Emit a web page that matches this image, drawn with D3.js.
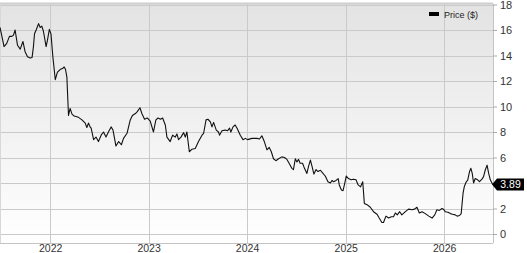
<!DOCTYPE html>
<html><head><meta charset="utf-8">
<script src="https://cdn.jsdelivr.net/npm/d3@7"></script>
<style>html,body{margin:0;padding:0;background:#fff;}svg{display:block;font-family:"Liberation Sans",Arial,sans-serif;}</style>
</head><body><svg id="c" width="527" height="253"></svg>
<script>
const dates = ["2021-06-29","2021-07-14","2021-07-24","2021-08-03","2021-08-12","2021-08-18","2021-08-24","2021-09-02","2021-09-12","2021-09-22","2021-09-30","2021-10-09","2021-10-19","2021-10-26","2021-10-31","2021-11-04","2021-11-10","2021-11-19","2021-11-25","2021-12-01","2021-12-07","2021-12-17","2021-12-22","2021-12-29",
"2022-01-04","2022-01-11","2022-01-20","2022-01-28","2022-02-07","2022-02-17","2022-02-22","2022-02-27","2022-03-04","2022-03-10","2022-03-16","2022-03-23","2022-03-31","2022-04-16","2022-04-29","2022-05-11","2022-05-17","2022-05-23","2022-05-29","2022-06-02","2022-06-11","2022-06-20","2022-06-29","2022-07-09","2022-07-18","2022-07-27","2022-08-05","2022-08-15","2022-08-22","2022-09-02","2022-09-12","2022-09-22","2022-09-30","2022-10-13","2022-10-25","2022-11-02","2022-11-13","2022-11-20","2022-11-30","2022-12-07","2022-12-17","2022-12-27",
"2023-01-07","2023-01-19","2023-01-28","2023-02-05","2023-02-14","2023-02-22","2023-03-04","2023-03-10","2023-03-22","2023-03-31","2023-04-10","2023-04-16","2023-04-22","2023-05-01","2023-05-11","2023-05-17","2023-05-23","2023-06-01","2023-06-11","2023-06-23","2023-07-05","2023-07-18","2023-07-24","2023-08-02","2023-08-09","2023-08-18","2023-08-24","2023-08-30","2023-09-09","2023-09-17","2023-09-21","2023-09-30","2023-10-12","2023-10-21","2023-10-28","2023-11-02","2023-11-10","2023-11-18","2023-11-25","2023-12-07","2023-12-17","2023-12-26",
"2024-01-03","2024-01-19","2024-02-07","2024-02-16","2024-02-25","2024-03-05","2024-03-15","2024-03-23","2024-03-31","2024-04-08","2024-04-17","2024-04-27","2024-05-09","2024-05-19","2024-05-28","2024-06-05","2024-06-15","2024-06-21","2024-06-28","2024-07-04","2024-07-10","2024-07-16","2024-07-25","2024-08-01","2024-08-10","2024-08-16","2024-08-23","2024-08-29","2024-09-05","2024-09-13","2024-09-20","2024-09-29","2024-10-07","2024-10-17","2024-10-27","2024-11-05","2024-11-11","2024-11-17","2024-11-26","2024-12-04","2024-12-08","2024-12-16","2024-12-22","2024-12-28",
"2025-01-03","2025-01-11","2025-01-21","2025-01-30","2025-02-08","2025-02-16","2025-02-25","2025-03-05","2025-03-11","2025-03-21","2025-04-02","2025-04-14","2025-04-27","2025-05-05","2025-05-15","2025-05-21","2025-05-30","2025-06-09","2025-06-19","2025-06-27","2025-07-04","2025-07-11","2025-07-20","2025-07-28","2025-08-10","2025-08-22","2025-09-04","2025-09-13","2025-09-22","2025-10-01","2025-10-11","2025-10-23","2025-11-05","2025-11-17","2025-11-27","2025-12-05","2025-12-14","2025-12-24","2025-12-29",
"2026-01-05","2026-01-15","2026-01-24","2026-02-01","2026-02-11","2026-02-18","2026-02-27","2026-03-05","2026-03-12","2026-03-17","2026-03-24","2026-03-29","2026-04-05","2026-04-10","2026-04-15","2026-04-20","2026-04-26","2026-05-05","2026-05-12","2026-05-21","2026-05-27","2026-06-02","2026-06-09","2026-06-15","2026-06-21","2026-06-30"];
const prices = [16.2,14.7,14.95,15.5,15.5,15.6,16.0,14.8,14.5,15.1,14.3,13.9,13.8,13.85,14.7,15.7,16.0,16.5,16.2,16.3,15.9,14.7,15.2,16.05,
15.7,13.9,12.1,12.7,12.9,13.0,13.1,12.9,12.3,9.3,9.85,9.4,9.25,9.15,8.95,8.7,8.35,8.7,8.4,8.3,7.4,7.6,7.25,7.75,8.0,7.6,8.0,8.4,8.15,6.9,7.25,7.0,7.5,7.9,8.95,9.3,9.45,9.6,9.9,9.45,9.0,9.1,
8.85,8.0,8.95,9.1,9.0,9.1,8.55,7.6,7.25,7.75,7.6,7.85,7.4,7.6,7.95,7.6,8.0,6.45,6.65,6.7,7.25,7.75,7.9,8.95,9.0,8.8,8.4,8.75,8.15,8.0,7.75,8.1,8.15,8.1,8.3,8.0,8.4,8.55,8.3,7.75,7.4,7.5,
7.4,7.5,7.5,7.45,7.7,7.25,6.6,6.8,6.45,5.9,5.75,5.9,6.05,6.0,5.85,5.55,5.15,5.05,5.9,5.65,5.85,5.55,5.55,5.15,4.75,5.3,5.8,5.3,4.7,5.05,4.9,5.0,4.8,4.55,4.1,4.0,4.2,4.1,4.2,4.35,3.85,3.45,3.4,3.95,
4.55,4.35,4.25,4.3,4.25,3.85,3.7,4.1,2.4,2.3,2.1,1.75,1.55,1.25,0.9,0.9,1.4,1.25,1.35,1.35,1.65,1.5,1.75,1.5,1.75,1.95,1.9,1.95,2.1,1.65,1.75,1.6,1.4,1.25,1.5,1.9,1.85,2.0,1.95,
1.75,1.7,1.6,1.55,1.5,1.4,1.45,1.6,3.2,3.75,4.1,4.2,4.9,5.15,4.75,4.0,4.35,4.25,4.1,4.3,4.5,5.0,5.4,4.75,4.25,3.89];
const yTicks = [0,2,4,6,8,10,12,14,16,18];
const xTickYears = ["2022","2023","2024","2025","2026"];
const seriesName = "Price ($)";
const lastLabel = "3.89";

const parse = d3.timeParse("%Y-%m-%d");
const data = dates.map((d,i)=>({date:parse(d), v:prices[i]}));

const svg = d3.select("#c");
const L=0, R=493, T=4, B=243;
const x = d3.scaleTime().domain([parse("2021-06-29"), parse("2026-07-01")]).range([L,R]);
const y = d3.scaleLinear().domain([0,18]).range([234,4.5]);

const defs = svg.append("defs");
const g = defs.append("linearGradient").attr("id","bg").attr("x1",0).attr("y1",0).attr("x2",0).attr("y2",1);
g.append("stop").attr("offset","0%").attr("stop-color","#e3e3e3");
g.append("stop").attr("offset","100%").attr("stop-color","#ffffff");
svg.append("rect").attr("x",L).attr("y",T).attr("width",R-L).attr("height",B-T).attr("fill","url(#bg)");

// grid
svg.append("g").selectAll("line").data(yTicks).join("line")
  .attr("x1",L).attr("x2",R).attr("y1",d=>Math.round(y(d))+0.5).attr("y2",d=>Math.round(y(d))+0.5)
  .attr("stroke","#cacaca").attr("stroke-width",1);
const yearDates = xTickYears.map(s=>parse(s+"-01-01"));
svg.append("g").selectAll("line").data(yearDates).join("line")
  .attr("x1",d=>Math.round(x(d))+0.5).attr("x2",d=>Math.round(x(d))+0.5).attr("y1",T).attr("y2",B)
  .attr("stroke","#cacaca").attr("stroke-width",1);

// borders
svg.append("line").attr("x1",0).attr("x2",R).attr("y1",3.5).attr("y2",3.5).attr("stroke","#cfcfcf").attr("stroke-width",2);
svg.append("line").attr("x1",0).attr("x2",R).attr("y1",B+0.5).attr("y2",B+0.5).attr("stroke","#c4c4c4");
svg.append("line").attr("x1",R+0.5).attr("x2",R+0.5).attr("y1",T).attr("y2",B).attr("stroke","#c4c4c4");
svg.append("line").attr("x1",0.5).attr("x2",0.5).attr("y1",T).attr("y2",B).attr("stroke","#d8d8d8");

// last price position (badge covers tick labels beneath it)
const last = data[data.length-1];
const ly = y(last.v);

// right axis
const yAxis = d3.axisRight(y).tickValues(yTicks).tickSize(4).tickPadding(3).tickFormat(d3.format("d"));
const ya = svg.append("g").attr("transform",`translate(${R},0)`).call(yAxis);
ya.select(".domain").remove();
ya.selectAll("line").attr("stroke","#aaa");
ya.selectAll("text").attr("font-size","11px").attr("fill","#333").attr("font-family","Liberation Sans, Arial, sans-serif");
ya.selectAll(".tick").filter(d=>Math.abs(y(d)-ly)<11).remove();

// bottom axis labels
const xAxis = d3.axisBottom(x).tickValues(yearDates).tickSize(0).tickPadding(0).tickFormat(d3.timeFormat("%Y"));
const xa = svg.append("g").attr("transform",`translate(0,${B})`).call(xAxis);
xa.select(".domain").remove();
xa.selectAll("text").attr("y",9).attr("dy",null).attr("font-size","10.5px").attr("fill","#333").attr("font-family","Liberation Sans, Arial, sans-serif");

// line
svg.append("path").datum(data)
  .attr("d", d3.line().x(d=>x(d.date)).y(d=>y(d.v)))
  .attr("fill","none").attr("stroke","#111").attr("stroke-width",1.1).attr("stroke-linejoin","round");

// legend
svg.append("rect").attr("x",429).attr("y",12).attr("width",10).attr("height",4).attr("fill","#000");
svg.append("text").attr("x",444).attr("y",18).attr("font-size","9px").attr("fill","#222").text(seriesName);

// last price badge
const bx = R - 1;
svg.append("path")
  .attr("d", `M${bx},${ly} L${bx+5},${ly-6} L${bx+32},${ly-6} L${bx+32},${ly+6} L${bx+5},${ly+6} Z`)
  .attr("fill","#000");
svg.append("text").attr("x",bx+18.5).attr("y",ly+3.8).attr("text-anchor","middle")
  .attr("font-size","10.5px").attr("fill","#fff").text(lastLabel);
</script></body></html>
